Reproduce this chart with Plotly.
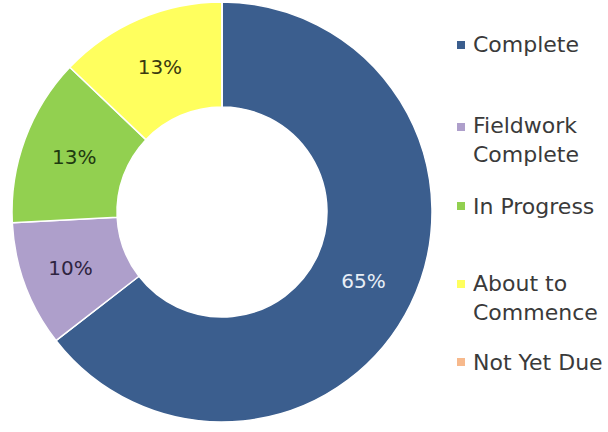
import plotly.graph_objects as go

categories = ["Complete", "Fieldwork Complete", "In Progress", "About to Commence", "Not Yet Due"]
legend_labels = ["Complete", "Fieldwork<br>Complete", "In Progress", "About to<br>Commence", "Not Yet Due"]
counts = [20, 3, 4, 4, 0]
colors = ["#3B5E8E", "#AE9FCB", "#92D050", "#FFFF5E", "#F7B98C"]
text_colors = ["#E8EEF6", "#2E2440", "#1E3A10", "#3A3A10", "#333333"]

W, H = 608, 432
total = sum(counts)
texts = [f"{round(v / total * 100)}%" if v else "" for v in counts]

FONT = "DejaVu Sans, Lato, sans-serif"

fig = go.Figure(go.Pie(
    labels=categories,
    values=counts,
    text=texts,
    textinfo="text",
    textposition="inside",
    insidetextorientation="horizontal",
    textfont=dict(family=FONT, size=20, color=text_colors),
    hole=0.5,
    sort=False,
    direction="clockwise",
    rotation=0,
    marker=dict(colors=colors, line=dict(color="white", width=1.5)),
    domain=dict(x=[12 / W, 432 / W], y=[(H - 422) / H, (H - 2) / H]),
    showlegend=False,
))

# manual legend (pixel centres of each item)
item_centers = [45, 140, 206, 297.5, 362]
first_line = [45, 127, 206, 284, 362]
annotations = []
shapes = []
for lab, col, yc, yf in zip(legend_labels, colors, item_centers, first_line):
    annotations.append(dict(
        x=471 / W, y=1 - yc / H, xref="paper", yref="paper",
        xanchor="left", yanchor="middle", align="left",
        text=lab, showarrow=False,
        font=dict(family=FONT, size=22, color="#3A3A3A"),
    ))
    shapes.append(dict(
        type="rect", xref="paper", yref="paper",
        x0=457 / W, x1=465 / W, y0=1 - (yf + 4) / H, y1=1 - (yf - 4) / H,
        fillcolor=col, line=dict(width=0),
    ))

fig.update_layout(
    width=W, height=H,
    margin=dict(l=0, r=0, t=0, b=0),
    paper_bgcolor="white",
    plot_bgcolor="white",
    annotations=annotations,
    shapes=shapes,
)

fig.write_html("out.html", config={"displayModeBar": False},
               post_script="document.body.style.margin='0';")
